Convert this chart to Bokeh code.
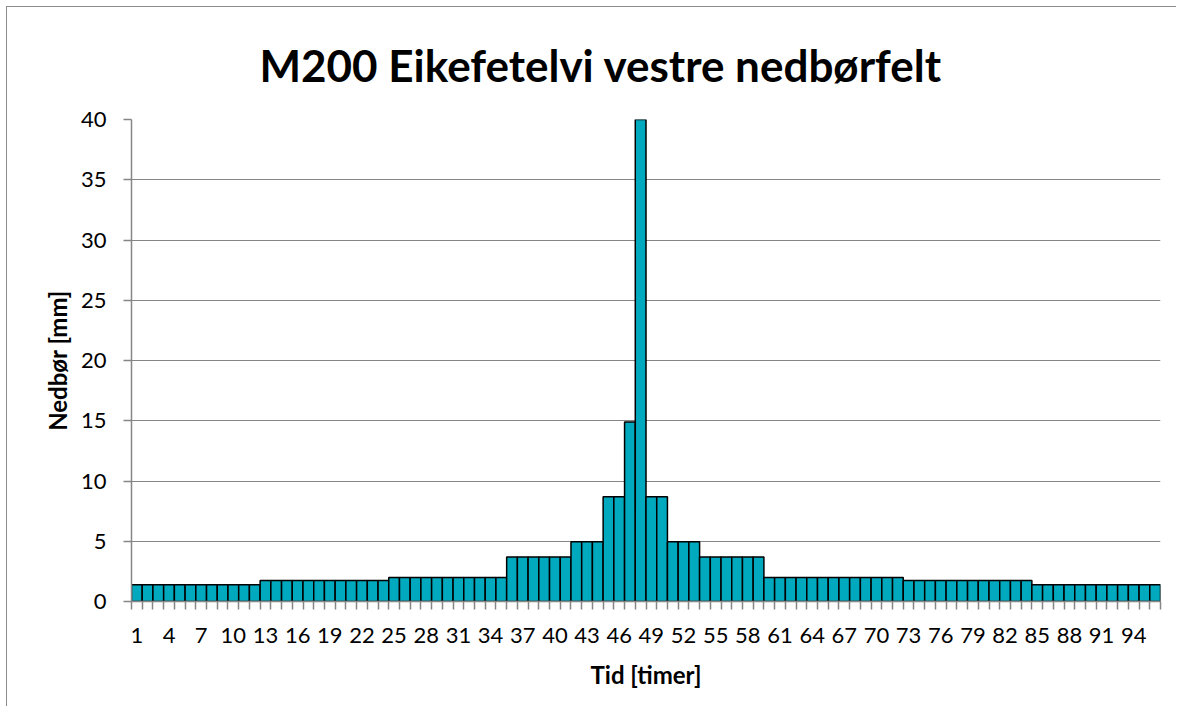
from bokeh.plotting import figure
from bokeh.models import FixedTicker, Range1d, ColumnDataSource, Title
from bokeh.embed import file_html
from bokeh.resources import INLINE

# Data
hours = list(range(1, 97))
nedbor = [
    1.4, 1.4, 1.4, 1.4, 1.4, 1.4, 1.4, 1.4, 1.4, 1.4, 1.4, 1.4,
    1.75, 1.75, 1.75, 1.75, 1.75, 1.75, 1.75, 1.75, 1.75, 1.75, 1.75, 1.75,
    2.0, 2.0, 2.0, 2.0, 2.0, 2.0, 2.0, 2.0, 2.0, 2.0, 2.0,
    3.7, 3.7, 3.7, 3.7, 3.7, 3.7,
    4.95, 4.95, 4.95,
    8.7, 8.7,
    14.9,
    40.0,
    8.7, 8.7,
    4.95, 4.95, 4.95,
    3.7, 3.7, 3.7, 3.7, 3.7, 3.7,
    2.0, 2.0, 2.0, 2.0, 2.0, 2.0, 2.0, 2.0, 2.0, 2.0, 2.0, 2.0, 2.0,
    1.75, 1.75, 1.75, 1.75, 1.75, 1.75, 1.75, 1.75, 1.75, 1.75, 1.75, 1.75,
    1.4, 1.4, 1.4, 1.4, 1.4, 1.4, 1.4, 1.4, 1.4, 1.4, 1.4, 1.4,
]
x_tick_labels = [1, 4, 7, 10, 13, 16, 19, 22, 25, 28, 31, 34, 37, 40, 43, 46,
                 49, 52, 55, 58, 61, 64, 67, 70, 73, 76, 79, 82, 85, 88, 91, 94]
y_ticks = [0, 5, 10, 15, 20, 25, 30, 35, 40]

FONT = "Lato"
GRAY = "#868686"

source = ColumnDataSource(dict(x=hours, y=nedbor))

p = figure(width=1170, height=700, output_backend="svg", toolbar_location=None,
           x_range=Range1d(0.5, 96.5), y_range=Range1d(0, 40),
           min_border_left=124, min_border_right=17, min_border_top=112,
           min_border_bottom=106,
           styles={"border-left": "1px solid #8c8c8c", "border-top": "1px solid #8c8c8c",
                   "margin-left": "6px", "margin-top": "6px"})

p.vbar(x="x", top="y", width=1.0, bottom=0, source=source,
       fill_color="#00A9BE", line_color="black", line_width=1.5)

p.title.text = ""
title = Title(text="M200 Eikefetelvi vestre nedbørfelt", align="left",
              text_font=FONT, text_font_size="44px", text_font_style="bold",
              text_color="black", offset=128, standoff=58)
p.add_layout(title, "above")

p.outline_line_color = None
p.xgrid.grid_line_color = None
p.ygrid.grid_line_color = GRAY
p.ygrid.grid_line_width = 1.2

boundaries = [h - 0.5 for h in hours] + [hours[-1] + 0.5]
p.xaxis.ticker = FixedTicker(ticks=x_tick_labels, minor_ticks=boundaries)
p.xaxis.major_tick_line_color = None
p.xaxis.major_tick_out = 8
p.xaxis.minor_tick_out = 8
p.xaxis.minor_tick_in = 0
p.xaxis.minor_tick_line_color = GRAY
p.xaxis.minor_tick_line_width = 1.5
p.xaxis.major_label_standoff = 18
p.xaxis.axis_label = "Tid [timer]"
p.xaxis.axis_label_standoff = 14

p.yaxis.ticker = FixedTicker(ticks=y_ticks)
p.yaxis.major_tick_out = 8
p.yaxis.major_tick_in = 0
p.yaxis.major_tick_line_color = GRAY
p.yaxis.major_tick_line_width = 1.5
p.yaxis.minor_tick_line_color = None
p.yaxis.major_label_standoff = 17
p.yaxis.axis_label = "Nedbør [mm]"
p.yaxis.axis_label_standoff = 6

for ax in (p.xaxis, p.yaxis):
    ax.axis_line_color = GRAY
    ax.axis_line_width = 1.5
    ax.major_label_text_font = FONT
    ax.major_label_text_font_size = "22px"
    ax.major_label_text_color = "black"
    ax.axis_label_text_font = FONT
    ax.axis_label_text_font_size = "24px"
    ax.axis_label_text_font_style = "bold"
    ax.axis_label_text_color = "black"

open("out.html", "w").write(file_html(p, INLINE))
